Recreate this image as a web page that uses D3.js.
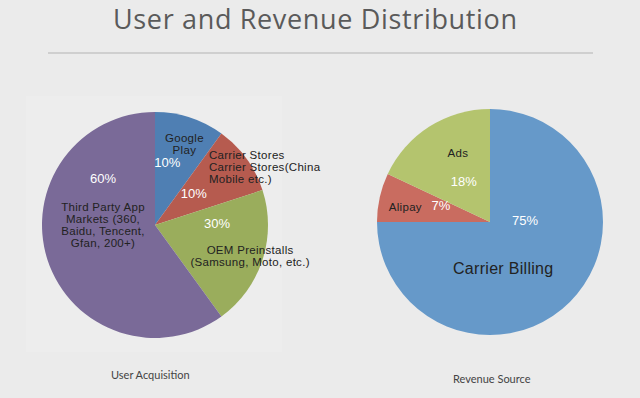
<!DOCTYPE html>
<html>
<meta charset="utf-8">
<style>
    body { margin: 0; background: #ebebeb; }
    svg { display: block; }
    .name { fill: #222; font-family: "Liberation Sans", Arial, sans-serif; font-size: 11.5px; letter-spacing: 0.3px; }
    .pct { fill: #fff; font-family: "Liberation Sans", Arial, sans-serif; font-size: 13px; }
    .caption { fill: #444; font-family: Lato, "Liberation Sans", sans-serif; font-size: 11px; }
</style>
<body>
<script src="https://cdn.jsdelivr.net/npm/d3@7"></script>
<script>
    // left pie: user acquisition
    var userNames = [["Google", "Play"], ["Carrier Stores", "Carrier Stores(China", "Mobile etc.)"],
                     ["OEM Preinstalls", "(Samsung, Moto, etc.)"], ["Third Party App", "Markets (360,", "Baidu, Tencent,", "Gfan, 200+)"]];
    var userValues = [10, 10, 20, 60];
    var userLabels = ["10%", "10%", "30%", "60%"];
    var userColors = ["#4f7fb3", "#b65b4f", "#9aad5c", "#7a6a98"];

    // right pie: revenue source
    var revNames = [["Carrier Billing"], ["Alipay"], ["Ads"]];
    var revValues = [75, 7, 18];
    var revLabels = ["75%", "7%", "18%"];
    var revColors = ["#6699c9", "#c96c60", "#b4c46e"];

    // label placement (angle in degrees from north, distance from centre)
    var userPctPos = [[11, 64], [51, 50], [89, 62], [312, 70]];
    var userNamePos = [[20, 86, "middle"], [43, 79, "start"], [108, 100, "middle"], [270, 52, "middle"]];
    var revPctPos = [[88, 35], [289, 52], [327, 48]];
    var revNamePos = [[164, 48, "middle"], [280, 86, "middle"], [335, 76, "middle"]];

    var W = 640, H = 398;
    var svg = d3.select("body").append("svg").attr("width", W).attr("height", H);

    svg.append("rect").attr("x", 26).attr("y", 96).attr("width", 256).attr("height", 256)
        .attr("fill", "#ededed");

    svg.append("text")
        .attr("x", 315).attr("y", 29)
        .attr("text-anchor", "middle")
        .attr("textLength", 404)
        .style("font-family", "'Open Sans', sans-serif")
        .style("font-size", "27px")
        .style("fill", "#5a5a5a")
        .text("User and Revenue Distribution");

    svg.append("line")
        .attr("x1", 48).attr("x2", 593).attr("y1", 53).attr("y2", 53)
        .attr("stroke", "#cfcfcf").attr("stroke-width", 2);

    function drawPie(cx, cy, r, values, colors, labels, pctPos, names, namePos, lh) {
        var g = svg.append("g").attr("transform", "translate(" + cx + "," + cy + ")");
        var pie = d3.pie().sort(null).value(function (d) { return d; });
        var arc = d3.arc().innerRadius(0).outerRadius(r);
        var arcs = pie(values);

        g.selectAll("path").data(arcs).enter().append("path")
            .attr("d", arc)
            .attr("fill", function (d, i) { return colors[i]; });

        g.selectAll("text.pct").data(arcs).enter().append("text")
            .attr("class", "pct")
            .attr("text-anchor", "middle")
            .attr("dominant-baseline", "central")
            .attr("transform", function (d, i) {
                var p = d3.pointRadial(pctPos[i][0] * Math.PI / 180, pctPos[i][1]);
                return "translate(" + p + ")";
            })
            .text(function (d, i) { return labels[i]; });

        arcs.forEach(function (d, i) {
            var p = d3.pointRadial(namePos[i][0] * Math.PI / 180, namePos[i][1]);
            var lines = names[i];
            var t = g.append("text").attr("class", "name")
                .attr("text-anchor", namePos[i][2])
                .attr("dominant-baseline", "central");
            lines.forEach(function (s, k) {
                t.append("tspan")
                    .attr("x", p[0])
                    .attr("y", p[1] + (k - (lines.length - 1) / 2) * lh)
                    .text(s);
            });
        });
    }

    drawPie(155, 225, 113, userValues, userColors, userLabels, userPctPos, userNames, userNamePos, 12);
    drawPie(490, 222, 113, revValues, revColors, revLabels, revPctPos, revNames, revNamePos, 13);

    // bigger font for the main revenue label
    svg.selectAll("text.name").filter(function () { return this.textContent === "Carrier Billing"; })
        .style("font-size", "16px");

    svg.append("text").attr("class", "caption").attr("x", 111).attr("y", 379).text("User Acquisition");
    svg.append("text").attr("class", "caption").attr("x", 453).attr("y", 383).text("Revenue Source");
</script>
</body>
</html>
